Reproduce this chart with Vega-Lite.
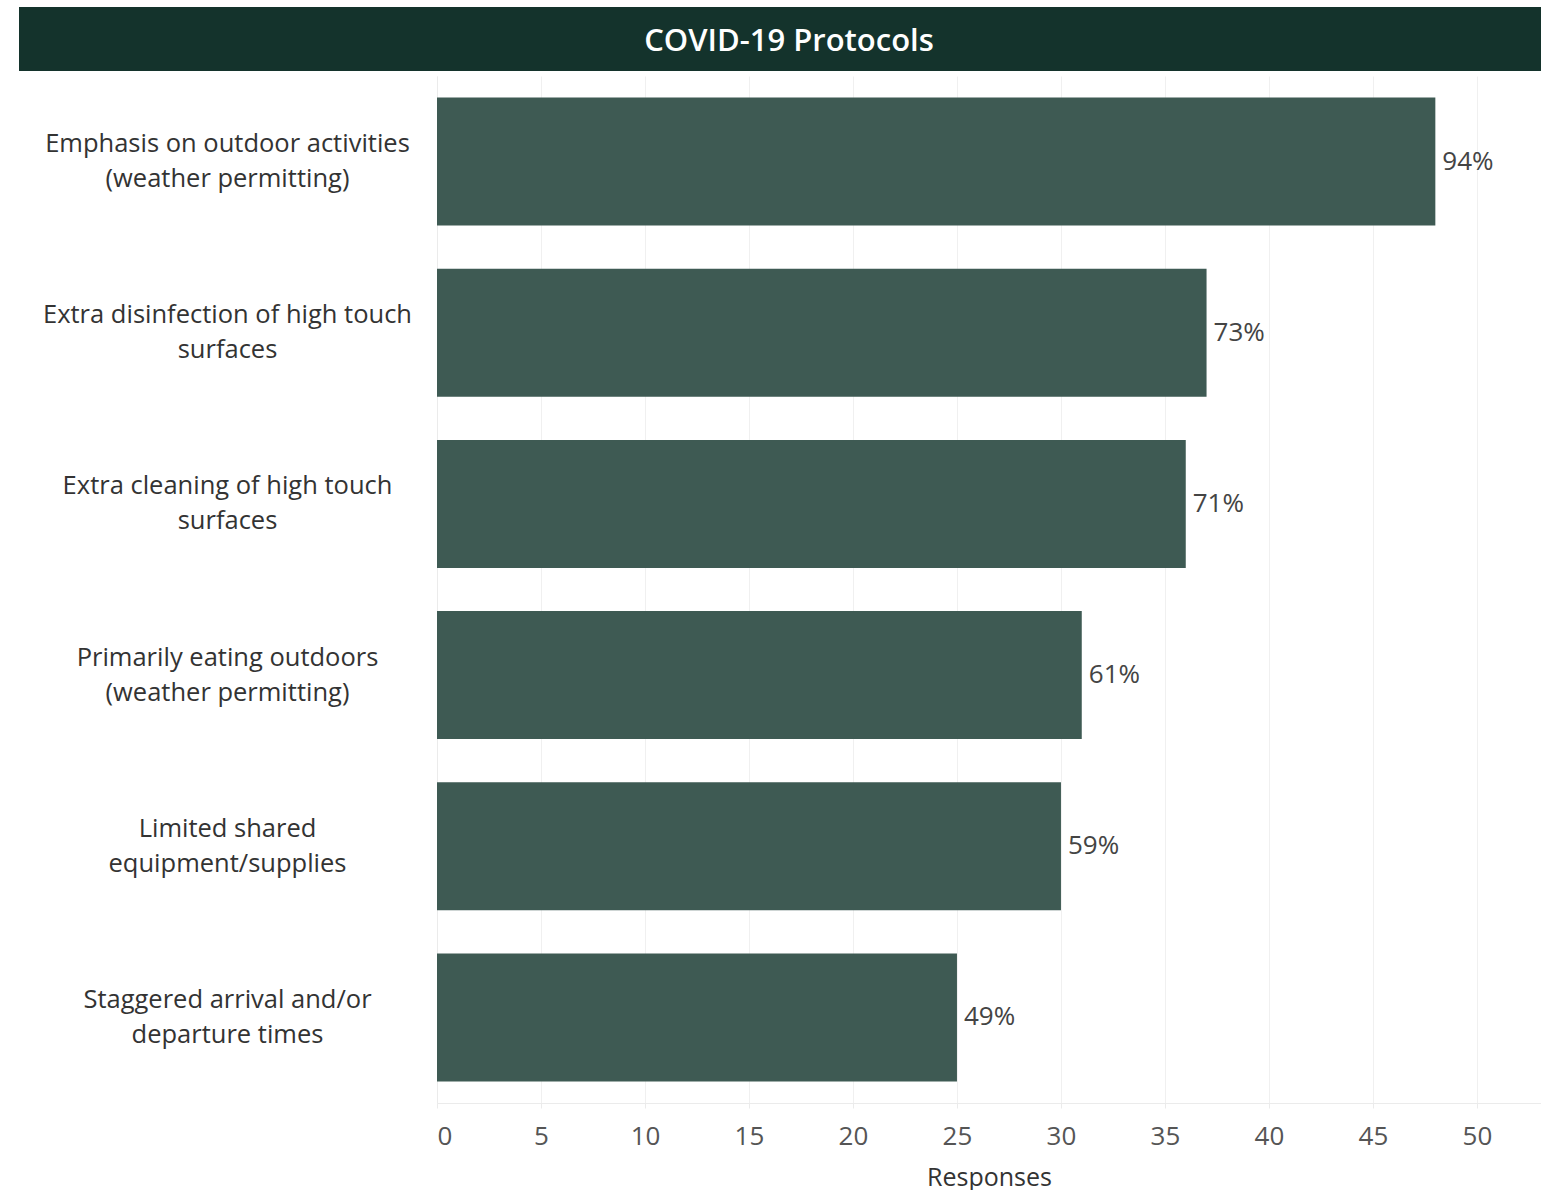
{
  "$schema": "https://vega.github.io/schema/vega-lite/v6.json",
  "background": "white",
  "padding": {"left": 19, "top": 7, "right": 0, "bottom": 0},
  "config": {"font": "Open Sans", "view": {"stroke": null}},
  "datasets": {
    "protocols": [
      {"protocol": "Emphasis on outdoor activities|(weather permitting)", "responses": 48, "pct": 0.94},
      {"protocol": "Extra disinfection of high touch|surfaces", "responses": 37, "pct": 0.73},
      {"protocol": "Extra cleaning of high touch|surfaces", "responses": 36, "pct": 0.71},
      {"protocol": "Primarily eating outdoors|(weather permitting)", "responses": 31, "pct": 0.61},
      {"protocol": "Limited shared|equipment/supplies", "responses": 30, "pct": 0.59},
      {"protocol": "Staggered arrival and/or|departure times", "responses": 25, "pct": 0.49}
    ]
  },
  "spacing": 5,
  "vconcat": [
    {
      "width": 1522,
      "height": 64,
      "view": {"fill": "#14332c", "stroke": null},
      "data": {"values": [{"title": "COVID-19 Protocols"}]},
      "mark": {"type": "text", "color": "white", "fontSize": 31, "fontWeight": 600, "dx": 9, "dy": 3, "baseline": "middle", "align": "center"},
      "encoding": {"text": {"field": "title", "type": "nominal"}}
    },
    {
      "spacing": 0,
      "hconcat": [
        {
          "width": 417,
          "height": 1027,
          "data": {"name": "protocols"},
          "mark": {"type": "text", "fontSize": 25.5, "lineHeight": 35, "lineBreak": "|", "color": "#333333", "align": "center", "baseline": "middle", "dy": -17.5},
          "encoding": {
            "y": {"field": "protocol", "type": "nominal", "sort": null, "axis": null, "scale": {"paddingInner": 0.252, "paddingOuter": 0.126}},
            "text": {"field": "protocol", "type": "nominal"}
          }
        },
        {
          "width": 1104,
          "height": 1027,
          "data": {"name": "protocols"},
          "encoding": {
            "y": {"field": "protocol", "type": "nominal", "sort": null, "scale": {"paddingInner": 0.252, "paddingOuter": 0.126},
                  "axis": {"labels": false, "ticks": false, "title": null, "grid": false, "domainColor": "#ebebeb"}},
            "x": {"field": "responses", "type": "quantitative", "scale": {"domain": [0, 53.08], "nice": false, "zero": true},
                  "axis": {"values": [0, 5, 10, 15, 20, 25, 30, 35, 40, 45, 50], "title": "Responses", "grid": true, "gridColor": "#f0f0f0",
                           "tickColor": "#ebebeb", "tickSize": 5, "domainColor": "#ebebeb", "labelFontSize": 26, "labelColor": "#555555",
                           "labelPadding": 15, "labelFlush": true, "titleFontSize": 25, "titleFontWeight": "normal", "titleColor": "#333333", "titlePadding": 16}}
          },
          "layer": [
            {"mark": {"type": "bar", "color": "#3e5a53"}},
            {"mark": {"type": "text", "align": "left", "baseline": "middle", "dx": 7, "fontSize": 26, "color": "#444444"},
             "encoding": {"text": {"field": "pct", "type": "quantitative", "format": ".0%"}}}
          ]
        }
      ]
    }
  ]
}
